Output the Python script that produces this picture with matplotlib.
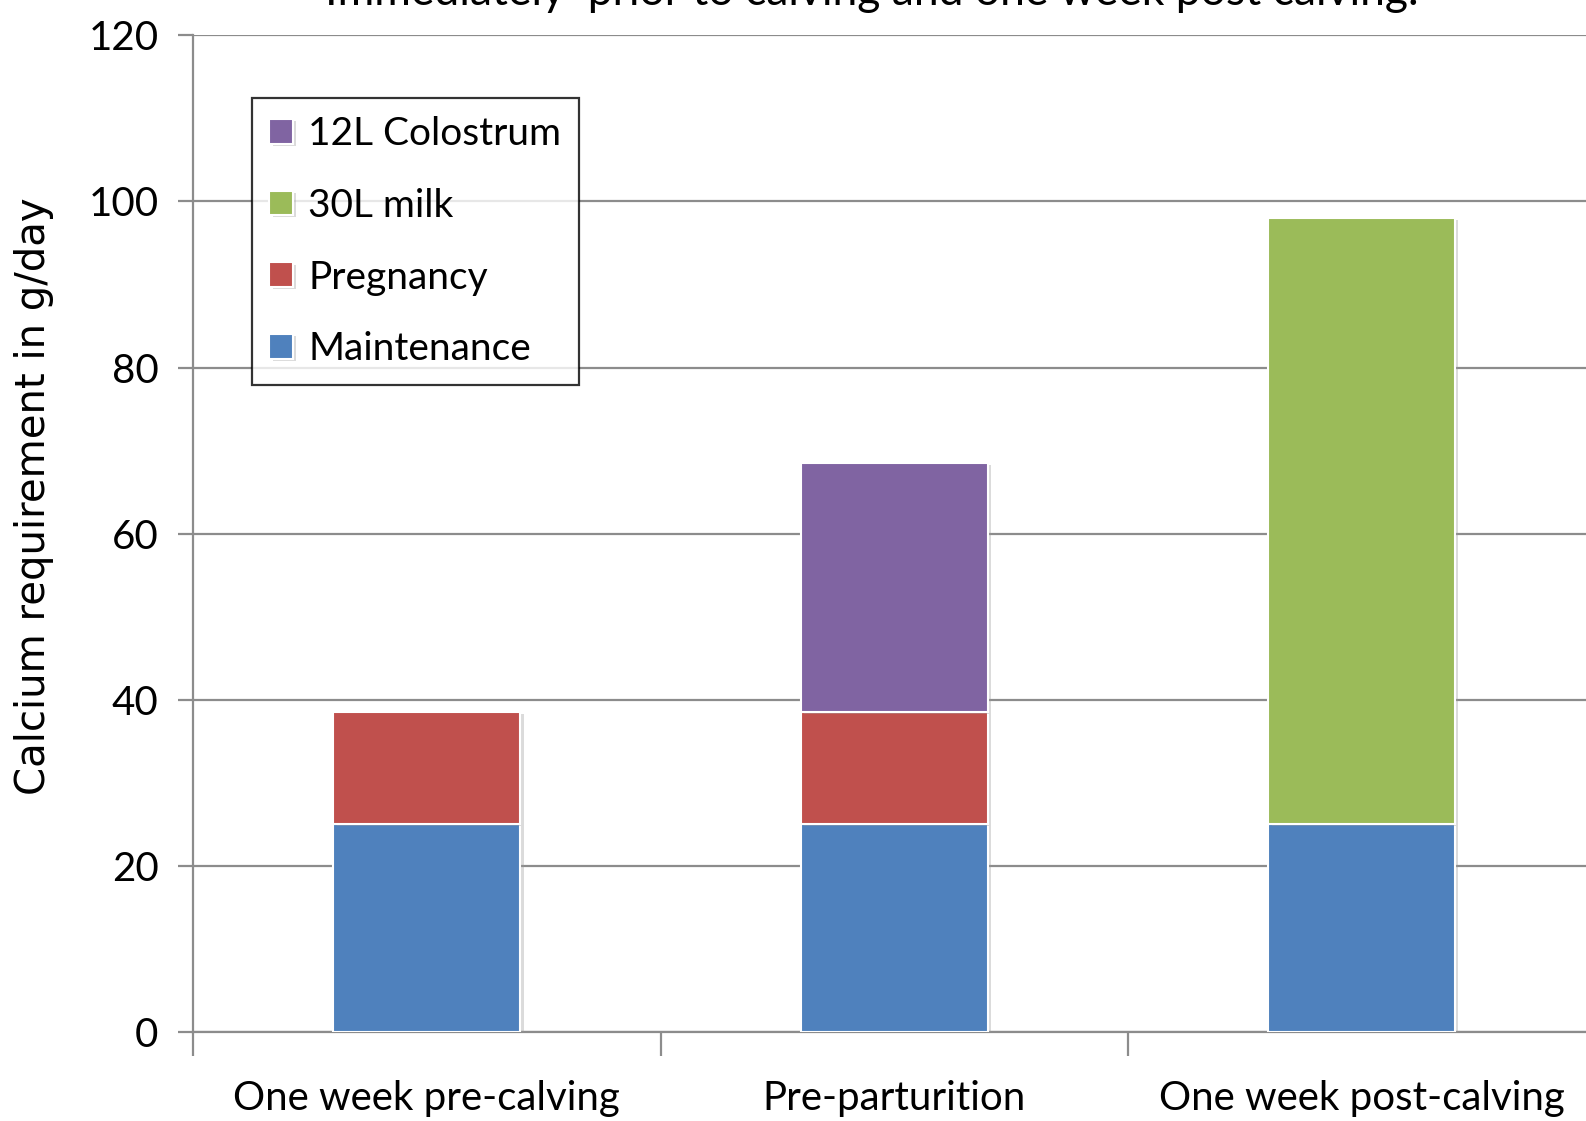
import matplotlib
matplotlib.use("Agg")
import matplotlib.pyplot as plt
import matplotlib.patheffects as pe
import numpy as np

plt.rcParams['font.family'] = ['Lato', 'DejaVu Sans']

categories = ["One week pre-calving", "Pre-parturition", "One week post-calving"]
maintenance = [25, 25, 25]
pregnancy = [13.5, 13.5, 0]
milk = [0, 0, 73]
colostrum = [0, 30, 0]

colors = {"Maintenance": "#4F81BD", "Pregnancy": "#C0504D",
          "30L milk": "#9BBB59", "12L Colostrum": "#8064A2"}

fig = plt.figure(figsize=(15.86, 11.21), dpi=100)
ax = fig.add_axes([0.1218, 0.0797, 0.884, 0.8887])

x = np.arange(len(categories))
w = 0.40
bottom = np.zeros(len(categories))
handles = {}
shadow = [pe.SimplePatchShadow(offset=(2.5, -1.5), shadow_rgbFace="#999999", alpha=0.35), pe.Normal()]
for name, vals in [("Maintenance", maintenance), ("Pregnancy", pregnancy),
                   ("30L milk", milk), ("12L Colostrum", colostrum)]:
    vals = np.array(vals, dtype=float)
    mask = vals > 0
    b = ax.bar(x[mask], vals[mask], w, bottom=bottom[mask], color=colors[name],
               edgecolor="white", linewidth=1.5, zorder=3, label=name)
    for p in b:
        p.set_path_effects(shadow)
    handles[name] = b
    bottom += vals

ax.set_xlim(-0.5, 2.5)
ax.set_ylim(0, 120)
ax.set_yticks(np.arange(0, 121, 20))
ax.yaxis.grid(True, color="#8c8c8c", linewidth=1.6, zorder=0)
ax.set_xticks(x)
ax.set_xticklabels(categories, fontsize=29)
ax.tick_params(axis='x', which='major', length=0, pad=35)
ax.set_xticks([-0.5, 0.5, 1.5, 2.5], minor=True)
ax.tick_params(axis='x', which='minor', length=17, width=1.6, color="#8c8c8c", direction='out')
ax.tick_params(axis='y', labelsize=29, length=11, width=1.6, color="#8c8c8c", pad=14)
for s in ["top", "right"]:
    ax.spines[s].set_visible(False)
for s in ["left", "bottom"]:
    ax.spines[s].set_color("#8c8c8c")
    ax.spines[s].set_linewidth(1.6)

ax.set_ylabel("Calcium requirement in g/day", fontsize=29, family=["DejaVu Sans"])
ax.yaxis.set_label_coords(-0.099, 0.538)

order = ["12L Colostrum", "30L milk", "Pregnancy", "Maintenance"]
leg = ax.legend([handles[k] for k in order], order, loc="upper left",
                bbox_to_anchor=(0.0419, 0.9367), fontsize=28, frameon=True,
                fancybox=False, edgecolor="black", handlelength=0.6, handleheight=0.6,
                handletextpad=0.4, labelspacing=0.92, borderpad=0.45, borderaxespad=0)
leg.get_frame().set_linewidth(1.6)

fig.text(0.55, 0.9955, "Immediately  prior to calving and one week post calving.",
         ha="center", va="baseline", fontsize=32)

fig.savefig("out.png", dpi=100)
